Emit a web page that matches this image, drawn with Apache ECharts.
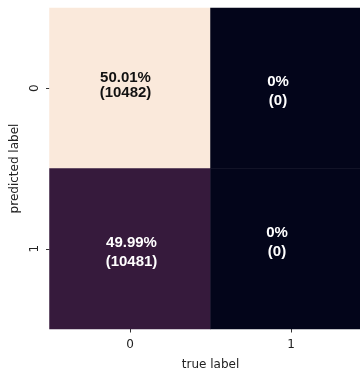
<!DOCTYPE html>
<html>
<head>
<meta charset="utf-8">
<script src="https://cdn.jsdelivr.net/npm/echarts@6/dist/echarts.min.js"></script>
<style>
  html, body { margin: 0; padding: 0; background: #fff; }
  #chart { width: 360px; height: 371px; }
</style>
</head>
<body>
<div id="chart"></div>
<script>
// Confusion matrix: rows = predicted label, columns = true label
const trueLabels = ['0', '1'];
const predictedLabels = ['0', '1'];
const counts = [
  [10482, 0],
  [10481, 0]
];
const percents = [
  ['50.01%', '0%'],
  ['49.99%', '0%']
];
const cellColors = [
  ['#FAE9DB', '#03051A'],
  ['#361A3C', '#03051A']
];
const textColors = [
  ['#111111', '#ffffff'],
  ['#ffffff', '#ffffff']
];
// annotation placement within each cell: [dx, dy, lineHeight]
const annotStyle = [
  [[-4.5, -3, 15], [-13, 3.5, 19]],
  [[1.5, 4, 19], [-14, -6, 19]]
];

const data = [];
predictedLabels.forEach((p, r) => {
  trueLabels.forEach((t, c) => {
    const a = annotStyle[r][c];
    data.push({
      value: [c, r, counts[r][c]],
      pct: percents[r][c],
      itemStyle: { color: cellColors[r][c] },
      label: { color: textColors[r][c], offset: [a[0], a[1]], lineHeight: a[2] }
    });
  });
});

const axisFont = { fontFamily: 'DejaVu Sans', fontSize: 12, color: '#222' };

const chart = echarts.init(document.getElementById('chart'));
chart.setOption({
  animation: false,
  grid: { left: 49.5, top: 8, width: 322, height: 321, outerBoundsMode: 'none', containLabel: false },
  xAxis: {
    type: 'category',
    data: trueLabels,
    name: 'true label',
    nameLocation: 'middle',
    nameGap: 30,
    nameTextStyle: Object.assign({}, axisFont),
    axisLine: { show: false },
    axisTick: { show: true, alignWithLabel: true, length: 3.5, lineStyle: { color: '#333' } },
    axisLabel: Object.assign({ margin: 10 }, axisFont),
    splitArea: { show: false }
  },
  yAxis: {
    type: 'category',
    data: predictedLabels,
    inverse: true,
    name: 'predicted label',
    nameLocation: 'middle',
    nameGap: 24,
    nameRotate: 90,
    nameTextStyle: Object.assign({}, axisFont),
    axisLine: { show: false },
    axisTick: { show: true, alignWithLabel: true, length: 3.5, lineStyle: { color: '#333' } },
    axisLabel: Object.assign({ rotate: 90, margin: 9 }, axisFont),
    splitArea: { show: false }
  },
  series: [{
    type: 'heatmap',
    data: data,
    label: {
      show: true,
      fontFamily: 'Liberation Sans',
      fontWeight: 'bold',
      fontSize: 15,
      formatter: (p) => p.data.pct + '\n(' + p.data.value[2] + ')'
    },
    emphasis: { disabled: true }
  }]
});
</script>
</body>
</html>
